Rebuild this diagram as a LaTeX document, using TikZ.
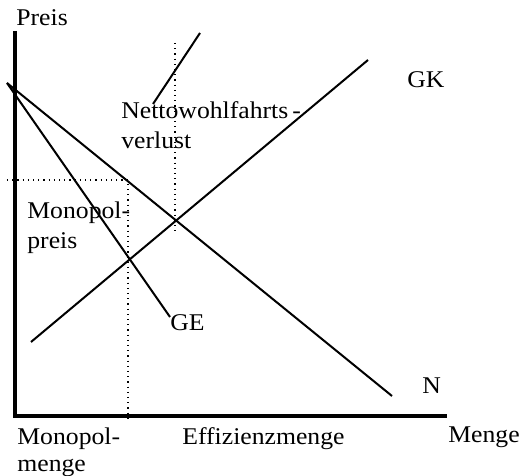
\documentclass[tikz,border=0pt]{standalone}
\usepackage{fontspec}
\setmainfont[FakeStretch=1.07]{Liberation Serif}

\tikzset{
    lbl/.style={anchor=north west, inner sep=0pt, align=left, font=\fontsize{12}{14}\selectfont},
    curve/.style={line width=1pt},
    axis/.style={line width=1.6pt},
    guide/.style={dotted, line width=0.6pt}
}

\begin{document}
\begin{tikzpicture}[x=0.5pt, y=0.5pt]
    \useasboundingbox (-15,-60) rectangle (510,416);

    % Axes
    \coordinate (origin) at (0,0);
    \coordinate (ytop) at (0,385);
    \coordinate (xend) at (432,0);
    \draw[axis] (ytop) -- (origin) -- (xend);

    % Curve end points
    \coordinate (nstart) at (-8,333);
    \coordinate (nend) at (377,20);
    \coordinate (geend) at (155,99);
    \coordinate (gkstart) at (16,74);
    \coordinate (gkend) at (353,356);

    \draw[curve] (nstart) -- (nend);   % Nachfrage
    \draw[curve] (nstart) -- (geend);  % Grenzerloes
    \draw[curve] (gkstart) -- (gkend); % Grenzkosten

    % Monopol (dotted)
    \coordinate (mpleft) at (-8,236);
    \coordinate (mpcorner) at (113,236);
    \coordinate (mqbottom) at (113,-4);
    \draw[guide] (mpleft) -- (mpcorner) -- (mqbottom);

    % Effizienz (dotted)
    \coordinate (efftop) at (160,373);
    \coordinate (effbottom) at (160,183);
    \draw[guide] (efftop) -- (effbottom);

    % Labels
    \node[lbl] (preis) at (1,407) {Preis};
    \node[lbl, font=\fontsize{12}{15}\selectfont] (nwv) at (106,315) {Nettowohlfahrts\,-\\verlust};
    \node[lbl] (gk) at (392,345) {GK};
    \node[lbl, font=\fontsize{12}{15}\selectfont] (mpreis) at (12,215) {Monopol-\\preis};
    \node[lbl] (ge) at (155,102) {GE};
    \node[lbl] (n) at (407,39) {N};
    \node[lbl, font=\fontsize{12}{13.5}\selectfont] (mmenge) at (2,-11) {Monopol-\\menge};
    \node[lbl] (emenge) at (167,-11) {Effizienzmenge};
    \node[lbl] (menge) at (433,-10) {Menge};

    % Pointer to the welfare loss
    \coordinate (nwvtip) at (185,383);
    \draw[curve] (nwv.north west) ++(32,-3) coordinate (nwvfoot) -- (nwvtip);
\end{tikzpicture}
\end{document}
